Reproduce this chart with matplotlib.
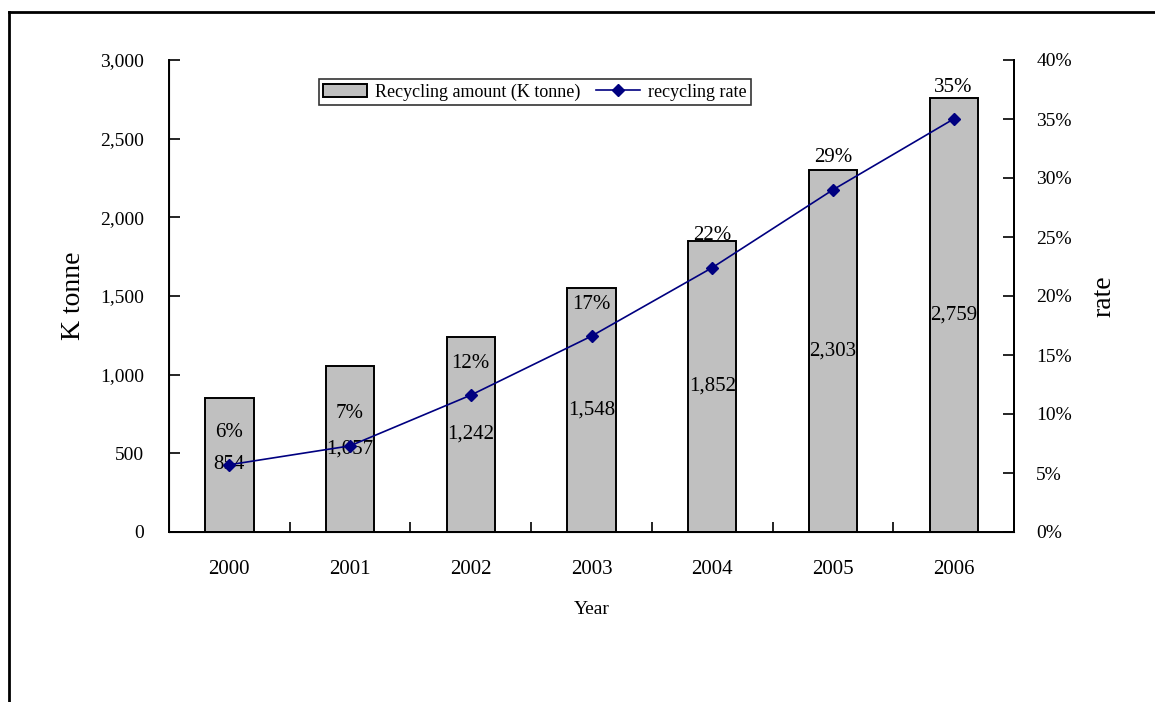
import matplotlib
matplotlib.use("Agg")
import matplotlib.pyplot as plt
from matplotlib.lines import Line2D
from matplotlib.ticker import FuncFormatter, PercentFormatter

plt.rcParams["font.family"] = ["Liberation Serif", "DejaVu Serif"]

years = ["2000", "2001", "2002", "2003", "2004", "2005", "2006"]
recycling_amount = [854, 1057, 1242, 1548, 1852, 2303, 2759]  # K tonne
recycling_rate = [0.057, 0.073, 0.116, 0.166, 0.224, 0.290, 0.350]

amount_ticks = [0, 500, 1000, 1500, 2000, 2500, 3000]
rate_ticks = [0, 0.05, 0.10, 0.15, 0.20, 0.25, 0.30, 0.35, 0.40]

fig = plt.figure(figsize=(11.55, 7.02), dpi=100)
fig.patch.set_facecolor("white")

# outer frame (left and top edges)
fig.add_artist(Line2D([9 / 1155, 9 / 1155], [0, 1 - 12 / 702], color="black", lw=2))
fig.add_artist(Line2D([9 / 1155, 1], [1 - 12 / 702, 1 - 12 / 702], color="black", lw=2))

ax = fig.add_axes([169 / 1155, 1 - 532 / 702, (1014 - 169) / 1155, (532 - 60) / 702])
x = list(range(len(years)))

bars = ax.bar(x, recycling_amount, width=0.4, color="#c0c0c0", edgecolor="black",
              linewidth=1.4, label="Recycling amount (K tonne)", zorder=2)
for xi, v in zip(x, recycling_amount):
    ax.text(xi, v / 2, f"{v:,}", ha="center", va="center", fontsize=15, zorder=3)

ax.set_xlim(-0.5, len(years) - 0.5)
ax.set_ylim(0, 3000)
ax.set_yticks(amount_ticks)
ax.yaxis.set_major_formatter(FuncFormatter(lambda v, p: f"{int(v):,}"))
ax.set_xticks([i + 0.5 for i in x[:-1]])
ax.set_xticklabels([])
ax.set_xticks(x, minor=True)
ax.set_xticklabels(years, minor=True, fontsize=15)
ax.tick_params(axis="x", which="major", direction="in", length=7, width=1.2)
ax.tick_params(axis="x", which="minor", length=0, pad=20)
ax.tick_params(axis="y", direction="in", length=8, width=1.2, labelsize=14, pad=18)
ax.set_ylabel("K tonne", fontsize=20, labelpad=10)
ax.set_xlabel("Year", fontsize=14, labelpad=16)
ax.spines["top"].set_visible(False)
for s in ("left", "bottom", "right"):
    ax.spines[s].set_linewidth(1.4)

ax2 = ax.twinx()
line, = ax2.plot(x, recycling_rate, color="#000080", lw=1.2, marker="D",
                 markersize=6.5, label="recycling rate", zorder=4)
for xi, r in zip(x, recycling_rate):
    ax2.annotate(f"{r:.0%}", (xi, r), xytext=(0, 23), textcoords="offset points",
                 ha="center", va="center", fontsize=15)
ax2.set_ylim(0, 0.40)
ax2.set_yticks(rate_ticks)
ax2.yaxis.set_major_formatter(PercentFormatter(xmax=1, decimals=0))
ax2.tick_params(axis="y", direction="in", length=8, width=1.2, labelsize=14, pad=16)
ax2.set_ylabel("rate", fontsize=20, labelpad=14)
ax2.spines["top"].set_visible(False)
ax2.spines["right"].set_linewidth(1.4)

leg = ax2.legend([bars, line], ["Recycling amount (K tonne)", "recycling rate"],
                 loc="center", bbox_to_anchor=(0.433, 0.932), ncol=2, fontsize=13,
                 frameon=True, fancybox=False, edgecolor="black", handlelength=2.4,
                 columnspacing=0.9, handletextpad=0.45, borderpad=0.25)
leg.get_frame().set_linewidth(1.2)

fig.savefig("out.png", dpi=100, facecolor="white")
